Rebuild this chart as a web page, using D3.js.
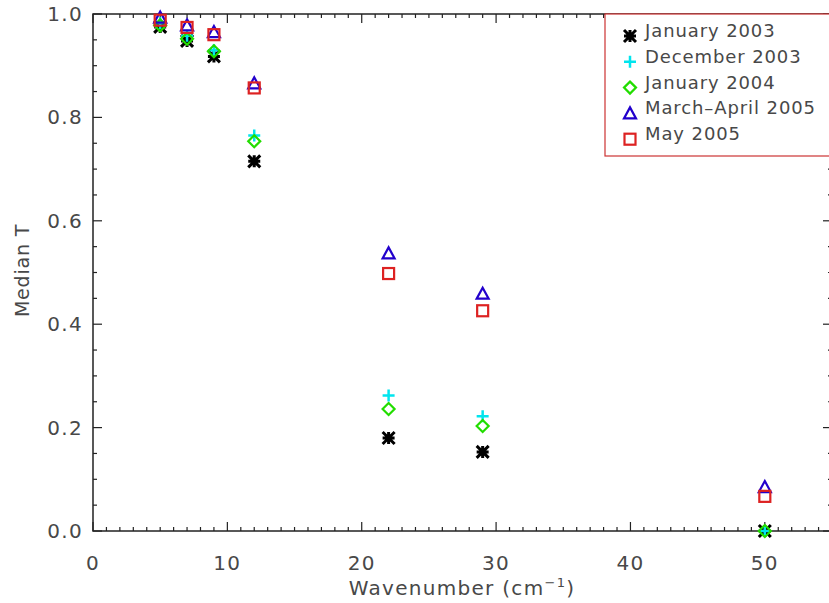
<!DOCTYPE html>
<html>
<head>
<meta charset="utf-8">
<script src="https://cdn.jsdelivr.net/npm/d3@7"></script>
<style>
  body { margin: 0; background: #fff; }
  text { font-family: "DejaVu Sans", sans-serif; fill: #484848; }
</style>
</head>
<body>
<div id="canvas"></div>
<script>
// wavenumbers (cm^-1)
const wavenumbers = [5, 7, 9, 12, 22, 29, 50];

const seriesNames = ["January 2003", "December 2003", "January 2004", "March\u2013April 2005", "May 2005"];
const jan2003 = [0.975, 0.948, 0.918, 0.715, 0.180, 0.153, 0.0];
const dec2003 = [0.982, 0.958, 0.930, 0.765, 0.262, 0.222, 0.0];
const jan2004 = [0.978, 0.952, 0.928, 0.754, 0.236, 0.203, 0.0];
const marApr2005 = [0.993, 0.978, 0.965, 0.866, 0.537, 0.459, 0.085];
const may2005 = [0.988, 0.974, 0.960, 0.857, 0.498, 0.426, 0.067];

const yTicks = [0.0, 0.2, 0.4, 0.6, 0.8, 1.0];
const xTicks = [0, 10, 20, 30, 40, 50];

const colors = ["#000000", "#00e5ee", "#22dd00", "#2200cc", "#dd2222"];
const symbols = ["star", "plus", "diamond", "triangle", "square"];
const allSeries = [jan2003, dec2003, jan2004, marApr2005, may2005];

const W = 829, H = 603;
const pLeft = 93, pTop = 14, pRight = 832, pBottom = 531;

const svg = d3.select("#canvas").append("svg")
    .attr("width", W)
    .attr("height", H);

const x = d3.scaleLinear().domain([0, 55]).range([pLeft, pRight]);
const y = d3.scaleLinear().domain([0, 1]).range([pBottom, pTop]);

// frame
svg.append("rect")
    .attr("x", pLeft).attr("y", pTop)
    .attr("width", pRight - pLeft).attr("height", pBottom - pTop)
    .attr("fill", "none").attr("stroke", "#222").attr("stroke-width", 1.5);

// minor/major ticks on all four sides
const xMinor = d3.range(0, 56, 1);
const yMinor = d3.range(0, 1.0001, 0.05);
const tickG = svg.append("g").attr("stroke", "#222").attr("stroke-width", 1.2);
xMinor.forEach(v => {
  const len = v % 10 === 0 ? 9 : 4;
  tickG.append("line").attr("x1", x(v)).attr("x2", x(v)).attr("y1", pBottom).attr("y2", pBottom - len);
  tickG.append("line").attr("x1", x(v)).attr("x2", x(v)).attr("y1", pTop).attr("y2", pTop + len);
});
yMinor.forEach(v => {
  const major = Math.abs(Math.round(v * 5) - v * 5) < 1e-6;
  const len = major ? 9 : 4;
  tickG.append("line").attr("y1", y(v)).attr("y2", y(v)).attr("x1", pLeft).attr("x2", pLeft + len);
  tickG.append("line").attr("y1", y(v)).attr("y2", y(v)).attr("x1", pRight).attr("x2", pRight - len);
});

// tick labels
svg.append("g").selectAll("text").data(yTicks).join("text")
    .attr("x", pLeft - 10).attr("y", d => y(d) + 7)
    .attr("text-anchor", "end").attr("font-size", 20).attr("letter-spacing", 1.3)
    .text(d => d.toFixed(1));
svg.append("g").selectAll("text").data(xTicks).join("text")
    .attr("x", d => x(d)).attr("y", pBottom + 39)
    .attr("text-anchor", "middle").attr("font-size", 20).attr("letter-spacing", 1.3)
    .text(d => d);

// axis titles
svg.append("text")
    .attr("transform", `translate(29, ${(pTop + pBottom) / 2 - 2}) rotate(-90)`)
    .attr("text-anchor", "middle").attr("font-size", 19).attr("letter-spacing", 0.8)
    .text("Median T");
const xt = svg.append("text")
    .attr("x", 462).attr("y", 595)
    .attr("text-anchor", "middle").attr("font-size", 20).attr("letter-spacing", 1.3);
xt.append("tspan").text("Wavenumber (cm");
xt.append("tspan").attr("dy", -8).attr("font-size", 13).text("\u22121");
xt.append("tspan").attr("dy", 8).text(")");

// marker drawing
function marker(g, sym, color, cx, cy) {
  const s = 6;
  if (sym === "star") {
    g.append("path")
      .attr("d", `M${cx - s},${cy - s}L${cx + s},${cy + s}M${cx - s},${cy + s}L${cx + s},${cy - s}M${cx - s},${cy}L${cx + s},${cy}M${cx},${cy - s}L${cx},${cy + s}`)
      .attr("stroke", color).attr("stroke-width", 3).attr("fill", "none");
  } else if (sym === "plus") {
    g.append("path")
      .attr("d", `M${cx - s},${cy}L${cx + s},${cy}M${cx},${cy - s}L${cx},${cy + s}`)
      .attr("stroke", color).attr("stroke-width", 2.5).attr("fill", "none");
  } else if (sym === "diamond") {
    g.append("path")
      .attr("d", `M${cx},${cy - s}L${cx + s},${cy}L${cx},${cy + s}L${cx - s},${cy}Z`)
      .attr("stroke", color).attr("stroke-width", 2.2).attr("fill", "none");
  } else if (sym === "triangle") {
    g.append("path")
      .attr("d", `M${cx},${cy - s}L${cx + s},${cy + s - 1}L${cx - s},${cy + s - 1}Z`)
      .attr("stroke", color).attr("stroke-width", 2.2).attr("fill", "none");
  } else if (sym === "square") {
    g.append("rect")
      .attr("x", cx - 5.5).attr("y", cy - 5.5).attr("width", 11).attr("height", 11)
      .attr("stroke", color).attr("stroke-width", 2.2).attr("fill", "none");
  }
}

const pts = svg.append("g");
allSeries.forEach((vals, i) => {
  vals.forEach((v, j) => marker(pts, symbols[i], colors[i], x(wavenumbers[j]), y(v)));
});

// legend
const lg = svg.append("g");
lg.append("rect")
    .attr("x", 605).attr("y", pTop).attr("width", 240).attr("height", 142)
    .attr("fill", "#fff").attr("stroke", "#cc3333").attr("stroke-width", 1.2);
seriesNames.forEach((name, i) => {
  const ly = 37 + i * 25.8;
  marker(lg, symbols[i], colors[i], 630, ly - 1);
  lg.append("text").attr("x", 645).attr("y", ly)
    .attr("font-size", 18).attr("letter-spacing", 0.9).text(name);
});
</script>
</body>
</html>
